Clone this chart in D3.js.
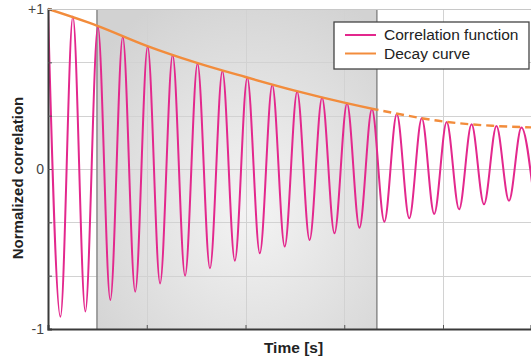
<!DOCTYPE html>
<html>
<head>
<meta charset="utf-8">
<script src="https://cdn.jsdelivr.net/npm/d3@7"></script>
<style>
  html, body { margin: 0; padding: 0; background: #fff; }
  svg { display: block; font-family: "Liberation Sans", Arial, sans-serif; }
</style>
</head>
<body>
<svg id="chart" width="531" height="360"></svg>
<script>
// peaks and troughs of the correlation function
const peakTimes = [0, 0.252, 0.505, 0.757, 1.009, 1.262, 1.514, 1.766, 2.018, 2.271,
                   2.523, 2.775, 3.028, 3.280, 3.532, 3.785, 4.037, 4.289, 4.541, 4.794];
const peakValues = [1.0, 0.953, 0.89, 0.827, 0.765, 0.712, 0.66, 0.612, 0.571, 0.525,
                    0.483, 0.446, 0.41, 0.375, 0.344, 0.317, 0.294, 0.279, 0.269, 0.26];
const troughTimes = [0.126, 0.378, 0.631, 0.883, 1.135, 1.388, 1.640, 1.892, 2.145, 2.397,
                     2.649, 2.901, 3.154, 3.406, 3.658, 3.911, 4.163, 4.415, 4.668, 4.920];
const troughValues = [-0.923, -0.89, -0.819, -0.767, -0.715, -0.667, -0.621, -0.573, -0.527, -0.485,
                      -0.444, -0.402, -0.367, -0.329, -0.308, -0.281, -0.252, -0.221, -0.198, -0.185];
// decay envelope
const decayTimes = [0, 0.5, 1, 1.5, 2, 2.5, 3, 3.5, 4, 4.5, 4.9];
const decayValues = [1.0, 0.895, 0.77, 0.665, 0.575, 0.49, 0.415, 0.35, 0.297, 0.27, 0.26];
// shaded fit window
const windowStart = 0.496;
const windowEnd = 3.33;
const xGrid = [1, 2, 3, 4];
const yGrid = [-1, -2/3, -1/3, 0, 1/3, 2/3, 1];
const yLabels = [[-1, "-1"], [0, "0"], [1, "+1"]];
const seriesNames = ["Correlation function", "Decay curve"];
const seriesColors = ["#e3288d", "#f28c3c"];

const margin = {top: 9, right: 0, bottom: 31, left: 48};
const W = 531, H = 360;
const width = W - margin.left - margin.right;
const height = H - margin.top - margin.bottom;

const svg = d3.select("#chart");
const x = d3.scaleLinear().domain([0, 4.891]).range([0, width]);
const y = d3.scaleLinear().domain([-1, 1]).range([height, 0]);

const defs = svg.append("defs");
defs.append("clipPath").attr("id", "plotClip")
  .append("rect").attr("width", width).attr("height", height);
defs.append("clipPath").attr("id", "solidClip")
  .append("rect").attr("x", 0).attr("y", -5).attr("width", x(windowEnd)).attr("height", height + 10);
defs.append("clipPath").attr("id", "dashClip")
  .append("rect").attr("x", x(windowEnd)).attr("y", -5).attr("width", width - x(windowEnd)).attr("height", height + 10);
let grad = defs.append("radialGradient").attr("id", "shade")
  .attr("cx", "55%").attr("cy", "62%").attr("r", "72%");
grad.append("stop").attr("offset", "0%").attr("stop-color", "#f4f4f4");
grad.append("stop").attr("offset", "100%").attr("stop-color", "#d2d2d2");

const g = svg.append("g").attr("transform", `translate(${margin.left},${margin.top})`);

// shaded window
g.append("rect")
  .attr("x", x(windowStart)).attr("y", 0)
  .attr("width", x(windowEnd) - x(windowStart)).attr("height", height)
  .attr("fill", "url(#shade)");

// grid
g.append("g").selectAll("line").data(yGrid).enter().append("line")
  .attr("x1", 0).attr("x2", width)
  .attr("y1", d => Math.round(y(d)) + 0.5).attr("y2", d => Math.round(y(d)) + 0.5)
  .attr("stroke", "#d2d2d2").attr("stroke-width", 1);
g.append("g").selectAll("line").data(xGrid).enter().append("line")
  .attr("x1", d => Math.round(x(d)) + 0.5).attr("x2", d => Math.round(x(d)) + 0.5)
  .attr("y1", 0).attr("y2", height)
  .attr("stroke", "#d2d2d2").attr("stroke-width", 1);

// window borders
g.append("g").selectAll("line").data([windowStart, windowEnd]).enter().append("line")
  .attr("x1", d => x(d)).attr("x2", d => x(d))
  .attr("y1", 0).attr("y2", height)
  .attr("stroke", "#8f8f8f").attr("stroke-width", 1.6);

// correlation curve through the extrema
let pts = peakTimes.map((t, i) => [t, peakValues[i]])
  .concat(troughTimes.map((t, i) => [t, troughValues[i]]))
  .sort((a, b) => a[0] - b[0]);
let line = d3.line().x(d => x(d[0])).y(d => y(d[1])).curve(d3.curveMonotoneX);

g.append("path")
  .attr("clip-path", "url(#plotClip)")
  .attr("d", line(pts))
  .attr("fill", "none")
  .attr("stroke", seriesColors[0])
  .attr("stroke-width", 2);

// decay curve: solid inside window, dashed after
let decayPts = decayTimes.map((t, i) => [t, decayValues[i]]);
g.append("path")
  .attr("clip-path", "url(#solidClip)")
  .attr("d", line(decayPts))
  .attr("fill", "none").attr("stroke", seriesColors[1]).attr("stroke-width", 2.4);
g.append("path")
  .attr("clip-path", "url(#dashClip)")
  .attr("d", line(decayPts))
  .attr("fill", "none").attr("stroke", seriesColors[1]).attr("stroke-width", 2.4)
  .attr("stroke-dasharray", "8,5");

// axes
let yAxis = d3.axisLeft(y).tickValues(yGrid).tickSize(-4).tickFormat("");
let xAxis = d3.axisBottom(x).tickValues(xGrid).tickSize(-4).tickFormat("");
let ya = g.append("g").call(yAxis);
let xa = g.append("g").attr("transform", `translate(0,${height})`).call(xAxis);
[ya, xa].forEach(a => {
  a.select(".domain").attr("stroke", "#3a3a3a").attr("stroke-width", 2);
  a.selectAll(".tick line").attr("stroke", "#555");
});
// light top border
g.append("line").attr("x1", 0).attr("x2", width).attr("y1", 0.5).attr("y2", 0.5)
  .attr("stroke", "#c8c8c8");

g.selectAll(".ylab").data(yLabels).enter().append("text")
  .attr("x", -4).attr("y", d => y(d[0]))
  .attr("dy", "0.35em")
  .attr("text-anchor", "end")
  .attr("font-size", 14).attr("fill", "#444")
  .text(d => d[1]);

svg.append("text")
  .attr("transform", `translate(23,${margin.top + height / 2 + 9}) rotate(-90)`)
  .attr("text-anchor", "middle")
  .attr("font-size", 15).attr("font-weight", "bold").attr("fill", "#222")
  .text("Normalized correlation");
svg.append("text")
  .attr("x", margin.left + width / 2 + 4).attr("y", 353)
  .attr("text-anchor", "middle")
  .attr("font-size", 15.5).attr("font-weight", "bold").attr("fill", "#222")
  .text("Time [s]");

// legend
let lg = svg.append("g").attr("transform", "translate(334,22)");
lg.append("rect").attr("width", 195).attr("height", 47)
  .attr("fill", "#fff").attr("stroke", "#444").attr("stroke-width", 1.3);
seriesNames.forEach((name, i) => {
  let row = lg.append("g").attr("transform", `translate(0,${13 + i * 18.5})`);
  row.append("line").attr("x1", 11).attr("x2", 42).attr("y1", 0).attr("y2", 0)
    .attr("stroke", seriesColors[i]).attr("stroke-width", 2);
  row.append("text").attr("x", 50).attr("y", 0).attr("dy", "0.35em")
    .attr("font-size", 15.5).attr("fill", "#222").text(name);
});
</script>
</body>
</html>
